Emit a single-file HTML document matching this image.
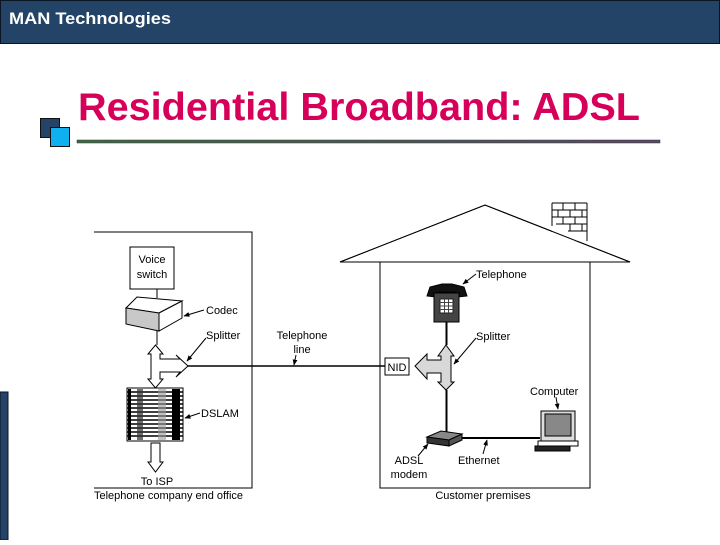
<!DOCTYPE html>
<html><head><meta charset="utf-8"><style>
html,body{margin:0;padding:0;background:#fff;}
body{width:720px;height:540px;position:relative;overflow:hidden;font-family:"Liberation Sans",sans-serif;}
</style></head><body>
<svg width="720" height="540" viewBox="0 0 720 540" xmlns="http://www.w3.org/2000/svg" font-family="Liberation Sans, sans-serif">
<defs>
<linearGradient id="g" x1="0" x2="1"><stop offset="0" stop-color="#3f6a45"/><stop offset="1" stop-color="#5a4a66"/></linearGradient>
<marker id="ar" viewBox="0 0 10 10" refX="9" refY="5" markerWidth="6" markerHeight="6" orient="auto"><path d="M0,1 L10,5 L0,9 z" fill="#000"/></marker>
</defs>
<!-- header -->
<rect x="0.5" y="0.5" width="719" height="43" fill="#234466" stroke="#0a1522"/>
<text x="9" y="24" fill="#fff" font-size="17" font-weight="bold" textLength="162" lengthAdjust="spacingAndGlyphs">MAN Technologies</text>
<rect x="0" y="392" width="8" height="148" fill="#234466" stroke="#0a1522" stroke-width="1"/>
<!-- title -->
<rect x="40.5" y="118.5" width="19" height="19" fill="#234466" stroke="#111"/>
<rect x="50.5" y="127.5" width="19" height="19" fill="#0fb0f0" stroke="#111"/>
<text x="78" y="120" fill="#d6005a" font-size="39" font-weight="bold" textLength="562" lengthAdjust="spacingAndGlyphs">Residential Broadband: ADSL</text>
<rect x="77" y="140" width="583" height="3" fill="url(#g)" stroke="#333" stroke-width="0.5"/>

<g stroke="#000" fill="none" stroke-width="1">
<!-- end office box -->
<polyline points="94,232 252,232 252,488 94,488"/>
<rect x="130" y="247" width="44" height="42" fill="#fff"/>
<line x1="157" y1="289" x2="157" y2="298"/>
<polygon points="126,308 137,297 182,301 159,313" fill="#fff"/>
<polygon points="126,308 159,313 159,331 126,324" fill="#c8c8c8"/>
<polygon points="159,313 182,301 182,318 159,331" fill="#fff"/>
<line x1="157" y1="331" x2="157" y2="345"/>
<!-- splitter left -->
<path d="M155.5,345 L163,354 L160,354 L160,359 L180,359 L176,355 L188,366 L176,377 L180,372 L160,372 L160,379 L163,379 L155.5,388 L148,379 L151,379 L151,354 L148,354 Z" fill="#fff"/>
<!-- DSLAM -->
<rect x="127" y="388" width="56" height="53" fill="#fff"/>
<g stroke-width="1.6">
<line x1="127" y1="392" x2="183" y2="392"/><line x1="127" y1="396" x2="183" y2="396"/><line x1="127" y1="400" x2="183" y2="400"/><line x1="127" y1="404" x2="183" y2="404"/><line x1="127" y1="408" x2="183" y2="408"/><line x1="127" y1="412" x2="183" y2="412"/><line x1="127" y1="416" x2="183" y2="416"/><line x1="127" y1="420" x2="183" y2="420"/><line x1="127" y1="424" x2="183" y2="424"/><line x1="127" y1="428" x2="183" y2="428"/><line x1="127" y1="432" x2="183" y2="432"/><line x1="127" y1="436" x2="183" y2="436"/>
</g>
<rect x="128" y="389" width="3" height="51" fill="#000" stroke="none"/>
<rect x="137" y="389" width="6" height="51" fill="#333" stroke="none" opacity="0.7"/>
<rect x="158" y="389" width="8" height="51" fill="#999" stroke="none" opacity="0.6"/>
<rect x="172" y="389" width="8" height="51" fill="#000" stroke="none"/>
<!-- To ISP -->
<path d="M151,443 L160,443 L160,462 L163,462 L155.5,472 L148,462 L151,462 Z" fill="#fff"/>
<!-- telephone line -->
<line x1="188" y1="366" x2="385" y2="366" stroke-width="1.5"/>
<rect x="385" y="358" width="24" height="17" fill="#fff"/>
<!-- house -->
<polygon points="340,262 485,205 630,262" fill="#fff"/>
<rect x="380" y="262" width="210" height="226" fill="none"/>
<rect x="552" y="203" width="35" height="38" fill="#fff" stroke="none"/>
<g stroke-width="1">
<line x1="552" y1="203" x2="552" y2="226"/><line x1="587" y1="203" x2="587" y2="241"/><line x1="552" y1="203" x2="587" y2="203"/>
<line x1="552" y1="210" x2="587" y2="210"/><line x1="552" y1="217" x2="587" y2="217"/><line x1="556" y1="224" x2="587" y2="224"/><line x1="568" y1="231" x2="587" y2="231"/>
<line x1="563" y1="203" x2="563" y2="210"/><line x1="575" y1="203" x2="575" y2="210"/><line x1="558" y1="210" x2="558" y2="217"/><line x1="570" y1="210" x2="570" y2="217"/><line x1="582" y1="210" x2="582" y2="217"/><line x1="563" y1="217" x2="563" y2="224"/><line x1="575" y1="217" x2="575" y2="224"/><line x1="570" y1="224" x2="570" y2="231"/><line x1="582" y1="224" x2="582" y2="231"/>
</g>
<polyline points="340,262 485,205 630,262 340,262"/>
<!-- telephone -->
<path d="M427,296 L430,287 L442,284 L452,284 L464,287 L467,296 L458,297 L455,292 L439,292 L436,297 Z" fill="#111"/>
<rect x="434" y="293" width="25" height="29" fill="#444"/>
<rect x="440" y="299" width="13" height="14" fill="#fff" stroke="#222"/>
<g stroke="#444" stroke-width="1"><line x1="444.5" y1="299" x2="444.5" y2="313"/><line x1="448.5" y1="299" x2="448.5" y2="313"/><line x1="440" y1="302.5" x2="453" y2="302.5"/><line x1="440" y1="306" x2="453" y2="306"/><line x1="440" y1="309.5" x2="453" y2="309.5"/></g>
<line x1="446.5" y1="322" x2="446.5" y2="345" stroke-width="2"/>
<path d="M446,345 L454,356 L451,356 L451,382 L454,382 L446,390 L438,382 L441,382 L441,373 L427,373 L427,379 L415,366 L427,354 L427,360 L441,360 L441,356 L438,356 Z" fill="#d8d8d8"/>
<line x1="446.5" y1="390" x2="446.5" y2="432" stroke-width="2"/>
<!-- modem -->
<polygon points="427,437 441,431 462,434 449,440" fill="#888"/>
<polygon points="427,437 449,440 449,446 427,443" fill="#333"/>
<polygon points="449,440 462,434 462,440 449,446" fill="#555"/>
<line x1="462" y1="438" x2="540" y2="438" stroke-width="2"/>
<!-- computer -->
<rect x="541" y="411" width="34" height="30" fill="#ddd"/>
<rect x="545" y="414" width="26" height="22" fill="#888"/>
<rect x="538" y="441" width="40" height="5" fill="#fff"/>
<rect x="535" y="446" width="35" height="5" fill="#222"/>
<!-- label arrows -->
<line x1="204" y1="310" x2="184" y2="316" marker-end="url(#ar)"/>
<line x1="206" y1="338" x2="187" y2="361" marker-end="url(#ar)"/>
<line x1="200" y1="413" x2="185" y2="418" marker-end="url(#ar)"/>
<line x1="296" y1="355" x2="294" y2="365" marker-end="url(#ar)"/>
<line x1="476" y1="274" x2="463" y2="284" marker-end="url(#ar)"/>
<line x1="476" y1="338" x2="454" y2="364" marker-end="url(#ar)"/>
<line x1="556" y1="397" x2="558" y2="409" marker-end="url(#ar)"/>
<line x1="418" y1="456" x2="428" y2="444" marker-end="url(#ar)"/>
<line x1="483" y1="454" x2="487" y2="440" marker-end="url(#ar)"/>
</g>
<g font-size="11" fill="#000">
<text x="152" y="263" text-anchor="middle">Voice</text>
<text x="152" y="278" text-anchor="middle">switch</text>
<text x="206" y="314">Codec</text>
<text x="206" y="339">Splitter</text>
<text x="302" y="339" text-anchor="middle">Telephone</text>
<text x="302" y="353" text-anchor="middle">line</text>
<text x="201" y="417">DSLAM</text>
<text x="157" y="485" text-anchor="middle">To ISP</text>
<text x="94" y="499">Telephone company end office</text>
<text x="397" y="371" text-anchor="middle">NID</text>
<text x="476" y="278">Telephone</text>
<text x="476" y="340">Splitter</text>
<text x="530" y="395">Computer</text>
<text x="409" y="464" text-anchor="middle">ADSL</text>
<text x="409" y="478" text-anchor="middle">modem</text>
<text x="458" y="464">Ethernet</text>
<text x="483" y="499" text-anchor="middle">Customer premises</text>
</g>
</svg>
</body></html>
